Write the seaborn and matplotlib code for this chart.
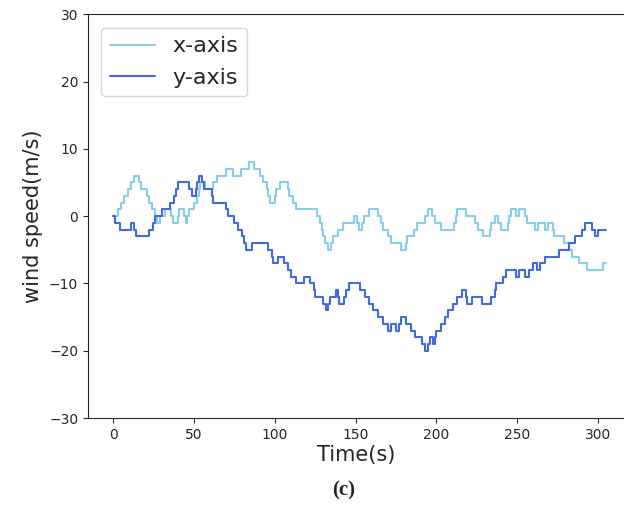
import matplotlib
matplotlib.use("Agg")
import matplotlib.pyplot as plt
import numpy as np
import pandas as pd
import seaborn as sns

# wind speed along x, (time of change, new value)
time_x = [0, 3, 5, 7, 9, 11, 13, 16, 17, 21, 22, 24, 26, 27, 29, 32, 36, 37, 40, 41,
          44, 45, 46, 47, 50, 52, 53, 54, 57, 62, 64, 70, 74, 79, 84, 87, 91, 93, 95, 96,
          97, 100, 101, 103, 108, 109, 111, 113, 126, 128, 129, 130, 131, 133, 135, 136, 139, 142, 149, 151,
          152, 154, 155, 158, 164, 166, 167, 170, 172, 178, 181, 182, 186, 188, 193, 195, 197, 199, 203, 211,
          212, 213, 218, 224, 226, 229, 233, 234, 236, 238, 240, 244, 245, 246, 249, 251, 255, 256, 261, 263,
          267, 269, 272, 273, 279, 282, 284, 288, 293, 303, 305]
speed_x = [0, 1, 2, 3, 4, 5, 6, 5, 4, 3, 2, 1, 0, -1, 0, 1, 0, -1, 0, 1,
           0, -1, 0, 1, 2, 3, 4, 5, 4, 5, 6, 7, 6, 7, 8, 7, 6, 5, 4, 3,
           2, 3, 4, 5, 4, 3, 2, 1, 0, -1, -2, -3, -4, -5, -4, -3, -2, -1, 0, -1,
           -2, -1, 0, 1, 0, -1, -2, -3, -4, -5, -4, -3, -2, -1, 0, 1, 0, -1, -2, -1,
           0, 1, 0, -1, -2, -3, -2, -1, 0, -1, -2, -1, 0, 1, 0, 1, 0, -1, -2, -1,
           -2, -1, -2, -3, -4, -5, -6, -7, -8, -7, -7]

# wind speed along y
time_y = [0, 1, 4, 11, 13, 14, 22, 25, 26, 30, 35, 38, 39, 40, 47, 49, 51, 52, 53, 55,
          56, 61, 62, 70, 71, 75, 77, 80, 81, 82, 86, 96, 98, 99, 102, 106, 108, 110, 113, 118,
          122, 124, 125, 130, 132, 133, 134, 138, 139, 140, 143, 144, 146, 153, 156, 158, 161, 164, 167, 170,
          172, 175, 177, 178, 181, 184, 187, 191, 193, 195, 196, 198, 199, 200, 203, 205, 207, 210, 213, 216,
          218, 219, 222, 228, 234, 236, 237, 241, 243, 249, 251, 255, 257, 260, 262, 264, 267, 276, 282, 286,
          290, 292, 296, 298, 300, 305]
speed_y = [0, -1, -2, -1, -2, -3, -2, -1, 0, 1, 2, 3, 4, 5, 4, 3, 4, 5, 6, 5,
           4, 3, 2, 1, 0, -1, -2, -3, -4, -5, -4, -5, -6, -7, -6, -7, -8, -9, -10, -9,
           -10, -11, -12, -13, -14, -13, -12, -11, -12, -13, -12, -11, -10, -11, -12, -13, -14, -15, -16, -17,
           -16, -17, -16, -15, -16, -17, -18, -19, -20, -19, -18, -19, -18, -17, -16, -15, -14, -13, -12, -11,
           -12, -13, -12, -13, -12, -11, -10, -9, -8, -9, -8, -9, -8, -7, -8, -7, -6, -5, -4, -3,
           -2, -1, -2, -3, -2, -2]

sns.set_style("ticks")
plt.rcParams['font.family'] = ['DejaVu Sans']

fig = plt.figure(figsize=(6.24, 5.08), dpi=100)
ax = fig.add_axes([0.141, 0.177, 0.859, 0.795])

df_x = pd.DataFrame({"t": time_x, "v": speed_x})
df_y = pd.DataFrame({"t": time_y, "v": speed_y})
sns.lineplot(data=df_x, x="t", y="v", ax=ax, color="skyblue", lw=1.5,
             drawstyle="steps-post", estimator=None, label="x-axis")
sns.lineplot(data=df_y, x="t", y="v", ax=ax, color="royalblue", lw=1.5,
             drawstyle="steps-post", estimator=None, label="y-axis")

ax.set_xlim(-15.5, 316)
ax.set_ylim(-30, 30)
ax.set_xticks([0, 50, 100, 150, 200, 250, 300])
ax.set_yticks([-30, -20, -10, 0, 10, 20, 30])
ax.tick_params(labelsize=10)
ax.spines['right'].set_visible(False)
ax.set_xlabel("Time(s)", fontsize=15, labelpad=2)
ax.set_ylabel("wind speed(m/s)", fontsize=15)
ax.legend(loc="upper left", fontsize=16, handlelength=2.0, borderaxespad=0.6)

fig.text(0.55, 0.035, "(c)", ha="center", va="center", fontsize=15,
         fontweight="bold", family="Liberation Serif")

fig.savefig("out.png", dpi=100)
